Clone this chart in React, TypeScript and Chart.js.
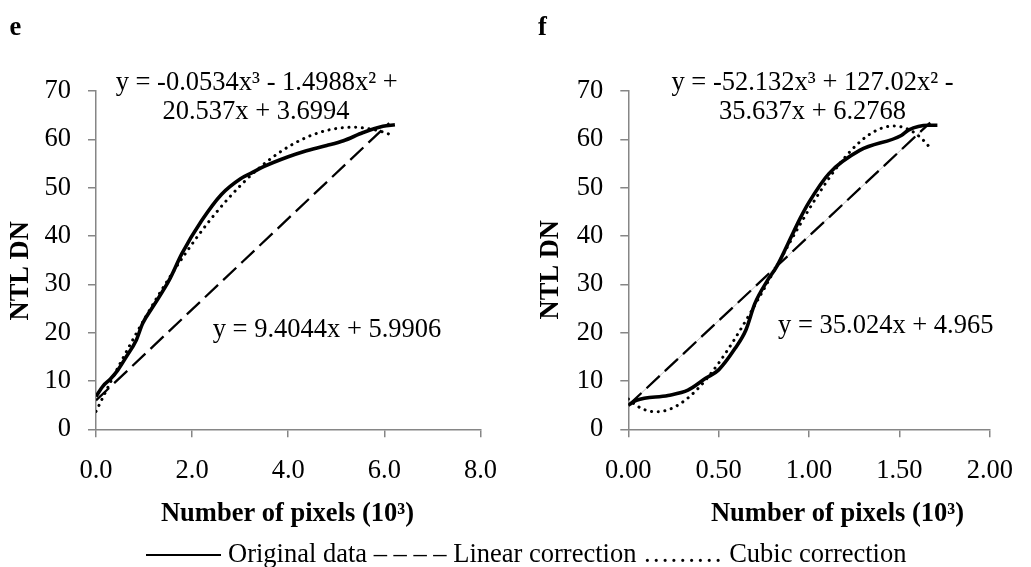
import React, { useEffect, useRef } from "react";
import { Chart, registerables } from "chart.js";

Chart.register(...registerables);

const SERIF = "'Liberation Serif', 'Times New Roman', serif";
const FONT_PX = 26.5;
const AXIS_GRAY = "#868686";
const CANVAS_H = 567;

// ---- Panel e: NTL DN against number of pixels (10^3) ----
const eOrigX = [0, 0.15, 0.3, 0.45, 0.63, 0.84, 0.97, 1.18, 1.52, 1.79, 2.2, 2.61, 3.0, 3.23, 3.5, 4.0, 4.33, 4.8, 5.15, 5.56, 5.97, 6.22];
const eOrigY = [6.8, 9.0, 10.4, 12.2, 15, 18.5, 21.9, 25.3, 30.8, 36.4, 43.2, 48.6, 51.8, 53.0, 54.4, 56.4, 57.5, 58.7, 59.7, 61.4, 62.7, 63];
const eCubic = [-0.0534, -1.4988, 20.537, 3.6994];
const eLinear = [9.4044, 5.9906];
const eTrendMax = 6.1;
const eXTicks = [0, 2, 4, 6, 8];

// ---- Panel f ----
const fOrigX = [0, 0.045, 0.22, 0.33, 0.43, 0.5, 0.59, 0.65, 0.7, 0.77, 0.82, 0.91, 0.95, 1.0, 1.11, 1.28, 1.51, 1.55, 1.66, 1.71];
const fOrigY = [5.0, 6.0, 7.0, 8.1, 10.6, 12.3, 16.7, 20.5, 26, 30.8, 33.6, 40.5, 43.6, 47.0, 52.9, 57.7, 60.8, 61.9, 62.9, 62.9];
const fCubic = [-52.132, 127.02, -35.637, 6.2768];
const fLinear = [35.024, 4.965];
const fTrendMax = 1.67;
const fXTicks = [0, 0.5, 1, 1.5, 2];

const yTicks = [0, 10, 20, 30, 40, 50, 60, 70];

const legendItems = ["Original data", "Linear correction", "Cubic correction"];

// Horner evaluation of a trendline whose coefficients are listed from the highest power down
function evalPoly(coeffs: number[], x: number): number {
  return coeffs.reduce((acc, c) => acc * x + c, 0);
}

function trendPoints(coeffs: number[], xMax: number, steps = 90) {
  const pts: { x: number; y: number }[] = [];
  for (let i = 0; i <= steps; i++) {
    const x = (xMax * i) / steps;
    pts.push({ x, y: evalPoly(coeffs, x) });
  }
  return pts;
}

const sgn = (v: number) => (v < 0 ? "-" : "+");
const mag = (v: number) => String(Math.abs(v));

function cubicLabel(c: number[]): [string, string] {
  return [
    `y = ${c[0]}x³ ${sgn(c[1])} ${mag(c[1])}x² ${sgn(c[2])}`,
    `${mag(c[2])}x ${sgn(c[3])} ${mag(c[3])}`,
  ];
}

function linearLabel(c: number[]): string {
  return `y = ${c[0]}x ${sgn(c[1])} ${mag(c[1])}`;
}

type PanelSpec = {
  letter: string;
  origX: number[];
  origY: number[];
  cubic: number[];
  linear: number[];
  trendMax: number;
  xTicks: number[];
  xDecimals: number;
  canvasW: number;
  yAxisW: number;
  padTop: number;
  padRight: number;
  xAxisH: number;
  grayUnderDash: boolean;
  text: {
    letter: [number, number];
    yTitle: [number, number];
    xTitle: [number, number];
    cubic1: [number, number];
    cubic2: [number, number];
    linear: [number, number];
  };
};

const panels: { left: number; spec: PanelSpec }[] = [
  {
    left: 0,
    spec: {
      letter: "e",
      origX: eOrigX,
      origY: eOrigY,
      cubic: eCubic,
      linear: eLinear,
      trendMax: eTrendMax,
      xTicks: eXTicks,
      xDecimals: 1,
      canvasW: 515,
      yAxisW: 96,
      padTop: 91,
      padRight: 29.3,
      xAxisH: 137.7,
      grayUnderDash: false,
      text: {
        letter: [9.5, 35],
        yTitle: [28.3, 270.8],
        xTitle: [287.5, 520.7],
        cubic1: [256.7, 89.5],
        cubic2: [256, 119],
        linear: [327, 337.3],
      },
    },
  },
  {
    left: 515,
    spec: {
      letter: "f",
      origX: fOrigX,
      origY: fOrigY,
      cubic: fCubic,
      linear: fLinear,
      trendMax: fTrendMax,
      xTicks: fXTicks,
      xDecimals: 2,
      canvasW: 516,
      yAxisW: 113.3,
      padTop: 91,
      padRight: 26.3,
      xAxisH: 137.7,
      grayUnderDash: true,
      text: {
        letter: [23, 35],
        yTitle: [43.3, 269.7],
        xTitle: [322.5, 520.7],
        cubic1: [297.5, 89.7],
        cubic2: [297.5, 119.3],
        linear: [370.8, 333.3],
      },
    },
  },
];

function makeTextPlugin(spec: PanelSpec) {
  const [c1, c2] = cubicLabel(spec.cubic);
  const lin = linearLabel(spec.linear);
  const t = spec.text;
  return {
    id: "panelText",
    afterDraw(chart: Chart) {
      const ctx = chart.ctx;
      ctx.save();
      ctx.fillStyle = "#000";
      ctx.textBaseline = "alphabetic";

      ctx.font = `bold ${FONT_PX}px ${SERIF}`;
      ctx.textAlign = "left";
      ctx.fillText(spec.letter, t.letter[0], t.letter[1]);

      ctx.textAlign = "center";
      ctx.fillText("Number of pixels (10³)", t.xTitle[0], t.xTitle[1]);

      ctx.save();
      ctx.translate(t.yTitle[0], t.yTitle[1]);
      ctx.rotate(-Math.PI / 2);
      ctx.fillText("NTL DN", 0, 0);
      ctx.restore();

      ctx.font = `${FONT_PX}px ${SERIF}`;
      ctx.fillText(c1, t.cubic1[0], t.cubic1[1]);
      ctx.fillText(c2, t.cubic2[0], t.cubic2[1]);
      ctx.fillText(lin, t.linear[0], t.linear[1]);
      ctx.restore();
    },
  };
}

function buildConfig(spec: PanelSpec): any {
  const original = spec.origX.map((x, i) => ({ x, y: spec.origY[i] }));
  const linearPts = trendPoints(spec.linear, spec.trendMax, 2);
  const cubicPts = trendPoints(spec.cubic, spec.trendMax);

  const datasets: any[] = [
    {
      label: legendItems[0],
      data: original,
      borderColor: "#000",
      borderWidth: 3.6,
      cubicInterpolationMode: "monotone",
      pointRadius: 0,
      fill: false,
    },
    {
      label: legendItems[1],
      data: linearPts,
      borderColor: "#000",
      borderWidth: 2.3,
      borderDash: [18, 7],
      pointRadius: 0,
      tension: 0,
      fill: false,
    },
    {
      label: legendItems[2],
      data: cubicPts,
      borderColor: "#000",
      borderWidth: 3,
      borderDash: [0.1, 6.6],
      borderCapStyle: "round",
      pointRadius: 0,
      tension: 0,
      fill: false,
    },
  ];
  if (spec.grayUnderDash) {
    datasets.push({
      label: "",
      data: linearPts,
      borderColor: "#c4c4c4",
      borderWidth: 1,
      pointRadius: 0,
      tension: 0,
      fill: false,
    });
  }

  const tickFont = { family: SERIF, size: FONT_PX };
  const xt = spec.xTicks;

  return {
    type: "line",
    data: { datasets },
    options: {
      animation: false,
      responsive: false,
      events: [],
      layout: { padding: { left: 0, top: spec.padTop, right: spec.padRight, bottom: 0 } },
      plugins: { legend: { display: false }, tooltip: { enabled: false } },
      scales: {
        x: {
          type: "linear",
          min: xt[0],
          max: xt[xt.length - 1],
          ticks: {
            stepSize: xt[1] - xt[0],
            callback: (v: any) => Number(v).toFixed(spec.xDecimals),
            font: tickFont,
            color: "#000",
            padding: 18,
            maxRotation: 0,
            autoSkip: false,
          },
          grid: { display: true, drawOnChartArea: false, drawTicks: true, tickLength: 8, color: AXIS_GRAY, lineWidth: 1.5 },
          border: { display: true, color: AXIS_GRAY, width: 1.5 },
          afterFit: (s: any) => {
            s.height = spec.xAxisH;
          },
        },
        y: {
          type: "linear",
          min: yTicks[0],
          max: yTicks[yTicks.length - 1],
          ticks: {
            stepSize: yTicks[1] - yTicks[0],
            font: tickFont,
            color: "#000",
            padding: 17,
          },
          grid: { display: true, drawOnChartArea: false, drawTicks: true, tickLength: 8, color: AXIS_GRAY, lineWidth: 1.5 },
          border: { display: true, color: AXIS_GRAY, width: 1.5 },
          afterFit: (s: any) => {
            s.width = spec.yAxisW;
          },
        },
      },
    },
    plugins: [makeTextPlugin(spec)],
  };
}

function Panel({ left, spec }: { left: number; spec: PanelSpec }) {
  const ref = useRef<HTMLCanvasElement>(null);
  useEffect(() => {
    if (!ref.current) return;
    const chart = new Chart(ref.current, buildConfig(spec));
    return () => chart.destroy();
  }, [spec]);
  return (
    <canvas
      ref={ref}
      width={spec.canvasW}
      height={CANVAS_H}
      style={{ position: "absolute", left, top: 0, width: spec.canvasW, height: CANVAS_H, display: "block" }}
    />
  );
}

export default function App() {
  return (
    <div
      style={{
        position: "absolute",
        left: 0,
        top: 0,
        width: 1031,
        height: 567,
        background: "#fff",
        overflow: "hidden",
        fontFamily: SERIF,
      }}
    >
      {panels.map((p) => (
        <Panel key={p.spec.letter} left={p.left} spec={p.spec} />
      ))}
      <div style={{ position: "absolute", left: 146, top: 554, width: 75, height: 2, background: "#000" }} />
      <div
        style={{
          position: "absolute",
          left: 228,
          top: 537,
          fontSize: FONT_PX,
          lineHeight: "32px",
          whiteSpace: "nowrap",
          color: "#000",
        }}
      >
        {`${legendItems[0]} – – – – ${legendItems[1]} ……… ${legendItems[2]}`}
      </div>
    </div>
  );
}
